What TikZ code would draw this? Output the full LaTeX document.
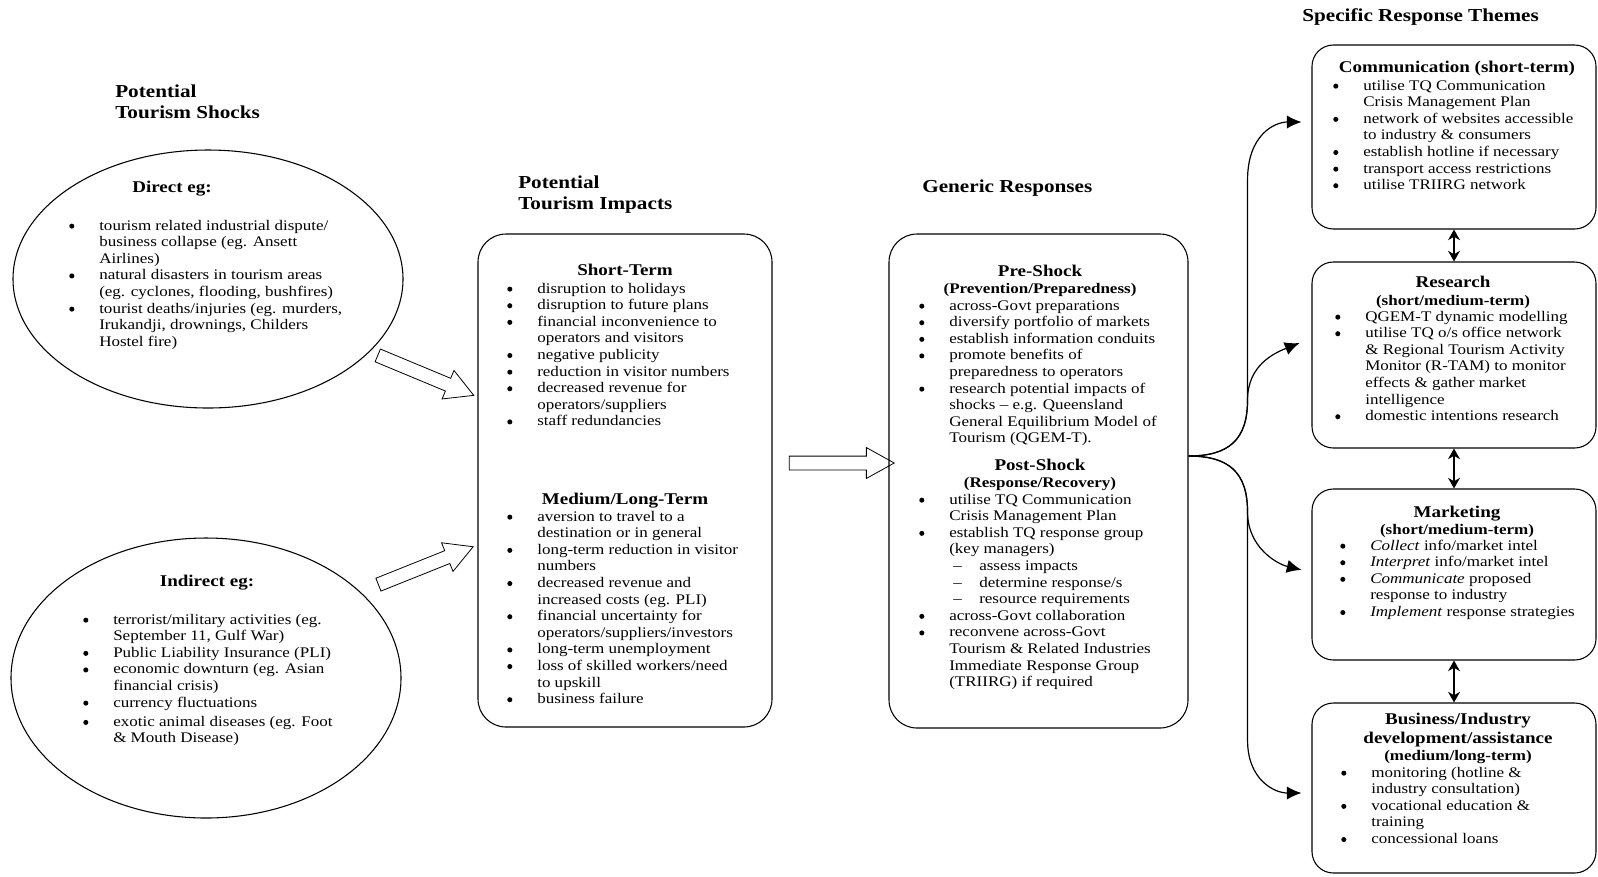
\documentclass[tikz,border=0pt]{standalone}
\usepackage{fontspec}
\setmainfont{Liberation Serif}[FakeStretch=1.16]
\usepackage{tikz}
\usetikzlibrary{shapes,arrows.meta}

\newcommand{\blist}[1]{\begin{tabular}[t]{@{}p{22.5pt}@{}l@{}}#1\end{tabular}}
\newcommand{\bt}{\tikz[baseline]\fill (0,2.9pt) circle (1.9pt);}
\newcommand{\sub}{\makebox[22.5pt][l]{\hspace{3pt}--}}

\begin{document}
\begin{tikzpicture}[x=0.75pt,y=-0.75pt]
	\tikzset{
		title/.style={anchor=base west,inner sep=0pt,font=\fontsize{13.7}{15.75}\selectfont\bfseries},
		head/.style={anchor=base,inner sep=0pt,font=\fontsize{12.3}{14.25}\selectfont\bfseries},
		subhead/.style={anchor=base,inner sep=0pt,font=\fontsize{11}{12.45}\selectfont\bfseries},
		items/.style={anchor=base west,inner sep=0pt,font=\fontsize{11}{12.45}\selectfont},
		shock/.style={draw,ellipse,inner sep=0pt,line width=0.8pt,minimum width=292.5pt},
		impactbox/.style={draw,rounded corners=21pt,inner sep=0pt,line width=0.8pt},
		themebox/.style={draw,rounded corners=16pt,inner sep=0pt,line width=0.8pt,minimum width=213pt},
		blockarrow/.style={draw,single arrow,single arrow head extend=6.4pt,single arrow tip angle=58,inner sep=0pt,line width=0.6pt},
		fan/.style={line width=0.9pt,-{Latex[length=11pt,width=10pt]}},
		link/.style={line width=0.9pt,{Stealth[length=8pt,width=9pt]}-{Stealth[length=8pt,width=9pt]}}
	}
	\useasboundingbox (0,0) rectangle (1598,876);

	%% column titles
	\node[title] (ttlshock) at (115,97) {\begin{tabular}[t]{@{}l@{}}Potential\\Tourism Shocks\end{tabular}};
	\node[title] (ttlimpact) at (518,188) {\begin{tabular}[t]{@{}l@{}}Potential\\Tourism Impacts\end{tabular}};
	\node[title] (ttlgeneric) at (922,192) {Generic Responses};
	\node[title] (ttltheme) at (1302,21) {Specific Response Themes};

	%% shocks
	\node[shock,minimum height=193.5pt] (direct) at (208,279) {};
	\node[shock,minimum height=210pt] (indirect) at (206,678) {};
	\node[head,anchor=base west] (directhd) at (132,192) {Direct eg:};
	\node[items] (directlst) at (69,230) {\blist{
		\bt & tourism related industrial dispute/\\
		& business collapse (eg. Ansett\\
		& Airlines)\\
		\bt & natural disasters in tourism areas\\
		& (eg. cyclones, flooding, bushfires)\\
		\bt & tourist deaths/injuries (eg. murders,\\
		& Irukandji, drownings, Childers\\
		& Hostel fire)}};
	\node[head] (indirecthd) at (207,586) {Indirect eg:};
	\node[items] (indirectlst) at (83,624) {\blist{
		\bt & terrorist/military activities (eg.\\
		& September 11, Gulf War)\\
		\bt & Public Liability Insurance (PLI)\\
		\bt & economic downturn (eg. Asian\\
		& financial crisis)\\
		\bt & currency fluctuations\\[2pt]
		\bt & exotic animal diseases (eg. Foot\\
		& \& Mouth Disease)}};

	\node[blockarrow,minimum height=78pt,rotate=-22.6] (arrdirect) at (420,373) {\rule{0pt}{9.75pt}};
	\node[blockarrow,minimum height=76.5pt,rotate=21.8] (arrindirect) at (420,568) {\rule{0pt}{9.75pt}};

	%% impacts
	\node[impactbox,minimum width=220.5pt,minimum height=369.75pt] (impact) at (625,480.5) {};
	\node[head] (shorthd) at (625,275) {Short-Term};
	\node[items] (shortlst) at (507,293) {\blist{
		\bt & disruption to holidays\\
		\bt & disruption to future plans\\
		\bt & financial inconvenience to\\
		& operators and visitors\\
		\bt & negative publicity\\
		\bt & reduction in visitor numbers\\
		\bt & decreased revenue for\\
		& operators/suppliers\\
		\bt & staff redundancies}};
	\node[head] (longhd) at (625,504) {Medium/Long-Term};
	\node[items] (longlst) at (507,521) {\blist{
		\bt & aversion to travel to a\\
		& destination or in general\\
		\bt & long-term reduction in visitor\\
		& numbers\\
		\bt & decreased revenue and\\
		& increased costs (eg. PLI)\\
		\bt & financial uncertainty for\\
		& operators/suppliers/investors\\
		\bt & long-term unemployment\\
		\bt & loss of skilled workers/need\\
		& to upskill\\
		\bt & business failure}};

	\node[blockarrow,minimum height=78.75pt] (arrimpact) at (835.5,463) {\rule{0pt}{9.75pt}};

	%% generic responses
	\node[impactbox,minimum width=224.25pt,minimum height=370.5pt] (generic) at (1038.5,481) {};
	\node[head] (prehd) at (1040,276) {Pre-Shock};
	\node[subhead] (presub) at (1040,293) {(Prevention/Preparedness)};
	\node[items] (prelst) at (919,310) {\blist{
		\bt & across-Govt preparations\\
		\bt & diversify portfolio of markets\\
		\bt & establish information conduits\\
		\bt & promote benefits of\\
		& preparedness to operators\\
		\bt & research potential impacts of\\
		& shocks -- e.g. Queensland\\
		& General Equilibrium Model of\\
		& Tourism (QGEM-T).}};
	\node[head] (posthd) at (1040,470) {Post-Shock};
	\node[subhead] (postsub) at (1040,487) {(Response/Recovery)};
	\node[items] (postlst) at (919,504) {\blist{
		\bt & utilise TQ Communication\\
		& Crisis Management Plan\\
		\bt & establish TQ response group\\
		& (key managers)\\
		& \sub assess impacts\\
		& \sub determine response/s\\
		& \sub resource requirements\\
		\bt & across-Govt collaboration\\
		\bt & reconvene across-Govt\\
		& Tourism \& Related Industries\\
		& Immediate Response Group\\
		& (TRIIRG) if required}};

	%% specific response themes
	\node[themebox,minimum height=138pt] (comm) at (1454,137) {};
	\node[themebox,minimum height=139.5pt] (research) at (1454,355) {};
	\node[themebox,minimum height=128.25pt] (market) at (1454,574.5) {};
	\node[themebox,minimum height=127.5pt] (business) at (1454,788) {};

	\node[head] (commhd) at (1457,72) {Communication (short-term)};
	\node[items] (commlst) at (1333,90) {\blist{
		\bt & utilise TQ Communication\\
		& Crisis Management Plan\\
		\bt & network of websites accessible\\
		& to industry \& consumers\\
		\bt & establish hotline if necessary\\
		\bt & transport access restrictions\\
		\bt & utilise TRIIRG network}};
	\node[head] (researchhd) at (1453,287) {Research};
	\node[subhead] (researchsub) at (1453,305) {(short/medium-term)};
	\node[items] (researchlst) at (1335,321) {\blist{
		\bt & QGEM-T dynamic modelling\\
		\bt & utilise TQ o/s office network\\
		& \& Regional Tourism Activity\\
		& Monitor (R-TAM) to monitor\\
		& effects \& gather market\\
		& intelligence\\
		\bt & domestic intentions research}};
	\node[head] (markethd) at (1457,517) {Marketing};
	\node[subhead] (marketsub) at (1457,534) {(short/medium-term)};
	\node[items] (marketlst) at (1340,550) {\blist{
		\bt & \textit{Collect} info/market intel\\
		\bt & \textit{Interpret} info/market intel\\
		\bt & \textit{Communicate} proposed\\
		& response to industry\\
		\bt & \textit{Implement} response strategies}};
	\node[head] (businesshd) at (1458,724) {\begin{tabular}[t]{@{}c@{}}Business/Industry\\development/assistance\end{tabular}};
	\node[subhead] (businesssub) at (1458,760) {(medium/long-term)};
	\node[items] (businesslst) at (1341,777) {\blist{
		\bt & monitoring (hotline \&\\
		& industry consultation)\\
		\bt & vocational education \&\\
		& training\\
		\bt & concessional loans}};

	%% fan out from generic responses
	\coordinate (fork) at ([yshift=18.75pt]generic.east);
	\draw[fan] (fork) .. controls +(40,0) and +(0,40) .. ++(59,-56) -- ++(0,-220)
		.. controls +(0,-45) and +(-27,0) .. ([xshift=-7.5pt,yshift=11.25pt]comm.west);
	\draw[fan] (fork) .. controls +(40,0) and +(0,40) .. ++(59,-56)
		.. controls +(0,-35) and +(-25,10) .. ([xshift=-9pt,yshift=9pt]research.west);
	\draw[fan] (fork) .. controls +(40,0) and +(0,-40) .. ++(59,56)
		.. controls +(0,35) and +(-25,-6) .. ([xshift=-7.5pt,yshift=3.5pt]market.west);
	\draw[fan] (fork) .. controls +(40,0) and +(0,-40) .. ++(59,56) -- ++(0,228)
		.. controls +(0,40) and +(-27,0) .. ([xshift=-7.5pt,yshift=-3.75pt]business.west);

	\draw[link] (comm.south) -- (research.north);
	\draw[link] (research.south) -- (market.north);
	\draw[link] (market.south) -- (business.north);
\end{tikzpicture}
\end{document}
